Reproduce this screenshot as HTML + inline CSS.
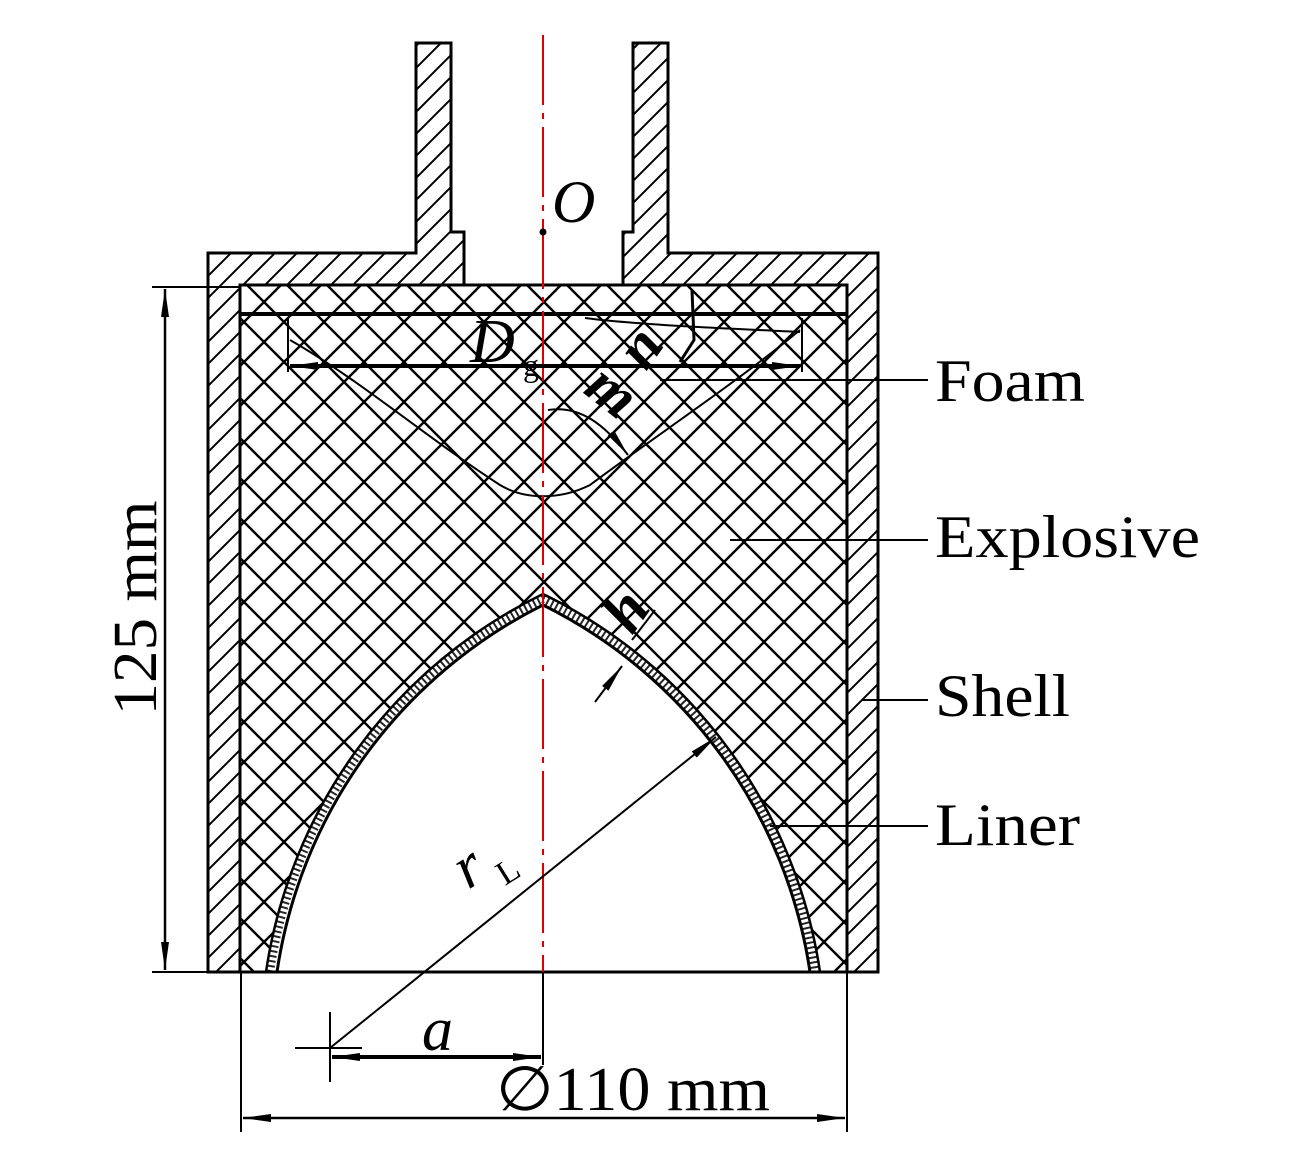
<!DOCTYPE html>
<html><head><meta charset="utf-8"><style>
html,body{margin:0;padding:0;background:#fff;}
svg{display:block;}
text{font-family:"Liberation Serif",serif;fill:#000;}
</style></head><body>
<svg width="1311" height="1169" viewBox="0 0 1311 1169" xmlns="http://www.w3.org/2000/svg">
<defs>
<pattern id="ch" width="40" height="40" patternUnits="userSpaceOnUse" x="4" y="2">
<path d="M0,0 L40,40 M40,0 L0,40 M-5,35 L5,45 M35,-5 L45,5 M-5,5 L5,-5 M35,45 L45,35" stroke="#000" stroke-width="2.4"/>
</pattern>
<pattern id="sh" width="22" height="22" patternUnits="userSpaceOnUse">
<path d="M0,22 L22,0 M-5,5 L5,-5 M17,27 L27,17" stroke="#000" stroke-width="2"/>
</pattern>
<marker id="ar" markerWidth="30" markerHeight="12" refX="28" refY="6" orient="auto" markerUnits="userSpaceOnUse">
<path d="M0,2 L28,6 L0,10 Z" fill="#000"/>
</marker>
</defs>
<rect x="240" y="285" width="607" height="687" fill="url(#ch)"/>
<path d="M266,972 A502,502 0 0 1 543,594 A502,502 0 0 1 820,972 Z" fill="#fff" stroke="#000" stroke-width="2.5"/>
<path d="M270,972 A497,497 0 0 1 543,599 A497,497 0 0 1 815,972" fill="none" stroke="#000" stroke-width="8" stroke-dasharray="2,3" opacity="0.85"/>
<path d="M277,972 A490,490 0 0 1 543,605 A490,490 0 0 1 810,972" fill="none" stroke="#000" stroke-width="3"/>
<path d="M208,972 V253 H416 V43 H451 V232 H464 V285 H240 V972 Z M878,972 V253 H668 V43 H633 V232 H623 V285 H847 V972 Z" fill="url(#sh)" stroke="#000" stroke-width="3"/>
<rect x="240" y="285" width="607" height="687" fill="none" stroke="#000" stroke-width="3"/>
<line x1="240" y1="314" x2="847" y2="314" stroke="#000" stroke-width="4"/>
<path d="M290,340 C360,380 430,440 500,485 C525,500 560,500 590,485 C650,440 740,380 800,330" fill="none" stroke="#000" stroke-width="2"/>
<line x1="543" y1="35" x2="543" y2="972" stroke="#d00" stroke-width="2" stroke-dasharray="70,8,6,8"/>
<circle cx="543" cy="232" r="3.5" fill="#000"/>
<text x="552" y="222" font-size="60" font-style="italic">O</text>
<line x1="288" y1="318" x2="288" y2="372" stroke="#000" stroke-width="2"/>
<line x1="802" y1="318" x2="802" y2="372" stroke="#000" stroke-width="2"/>
<line x1="320" y1="366" x2="770" y2="366" stroke="#000" stroke-width="4"/>
<line x1="500" y1="366" x2="290" y2="366" stroke="#000" stroke-width="4" marker-end="url(#ar)"/>
<line x1="600" y1="366" x2="800" y2="366" stroke="#000" stroke-width="4" marker-end="url(#ar)"/>
<text x="470" y="362" font-size="62" font-style="italic">D</text>
<text x="523" y="376" font-size="32">g</text>
<path d="M585,318 C640,325 720,328 800,332" fill="none" stroke="#000" stroke-width="2"/>
<path d="M692,290 L694,340 L680,362" fill="none" stroke="#000" stroke-width="3"/>
<text x="0" y="0" font-size="60" font-style="italic" font-weight="bold" transform="translate(646,372) rotate(-55)">n</text>
<path d="M548,410 C580,405 605,425 628,455" fill="none" stroke="#000" stroke-width="2" marker-end="url(#ar)"/>
<text x="0" y="0" font-size="60" font-style="italic" font-weight="bold" transform="translate(582,392) rotate(38)">m</text>
<line x1="595" y1="702" x2="622" y2="666" stroke="#000" stroke-width="2" marker-end="url(#ar)"/>
<line x1="655" y1="610" x2="632" y2="640" stroke="#000" stroke-width="2"/>
<text x="0" y="0" font-size="62" font-style="italic" font-weight="bold" transform="translate(632,636) rotate(-55)">h</text>
<line x1="330" y1="1048" x2="716" y2="737" stroke="#000" stroke-width="2" marker-end="url(#ar)"/>
<text x="0" y="0" font-size="62" font-style="italic" transform="translate(468,890) rotate(-32)">r</text>
<text x="0" y="0" font-size="34" transform="translate(505,886) rotate(-32)">L</text>
<line x1="330" y1="1012" x2="330" y2="1082" stroke="#000" stroke-width="2"/>
<line x1="295" y1="1048" x2="362" y2="1048" stroke="#000" stroke-width="2"/>
<line x1="440" y1="1057" x2="332" y2="1057" stroke="#000" stroke-width="4" marker-end="url(#ar)"/>
<line x1="440" y1="1057" x2="541" y2="1057" stroke="#000" stroke-width="4" marker-end="url(#ar)"/>
<line x1="543" y1="972" x2="543" y2="1065" stroke="#000" stroke-width="2"/>
<text x="422" y="1050" font-size="62" font-style="italic">a</text>
<line x1="241" y1="972" x2="241" y2="1132" stroke="#000" stroke-width="2"/>
<line x1="847" y1="972" x2="847" y2="1132" stroke="#000" stroke-width="2"/>
<line x1="540" y1="1118" x2="243" y2="1118" stroke="#000" stroke-width="2.5" marker-end="url(#ar)"/>
<line x1="540" y1="1118" x2="845" y2="1118" stroke="#000" stroke-width="2.5" marker-end="url(#ar)"/>
<text x="496" y="1110" font-size="62" textLength="274" lengthAdjust="spacingAndGlyphs">∅110 mm</text>
<line x1="152" y1="287" x2="240" y2="287" stroke="#000" stroke-width="2"/>
<line x1="152" y1="972" x2="208" y2="972" stroke="#000" stroke-width="2"/>
<line x1="165" y1="620" x2="165" y2="289" stroke="#000" stroke-width="2.5" marker-end="url(#ar)"/>
<line x1="165" y1="620" x2="165" y2="970" stroke="#000" stroke-width="2.5" marker-end="url(#ar)"/>
<text x="0" y="0" font-size="62" text-anchor="middle" textLength="215" lengthAdjust="spacingAndGlyphs" transform="translate(156,608) rotate(-90)">125 mm</text>
<line x1="660" y1="380" x2="928" y2="380" stroke="#000" stroke-width="2"/>
<line x1="730" y1="540" x2="928" y2="540" stroke="#000" stroke-width="2"/>
<line x1="862" y1="700" x2="928" y2="700" stroke="#000" stroke-width="2"/>
<line x1="770" y1="826" x2="928" y2="826" stroke="#000" stroke-width="2"/>
<text x="935" y="401" font-size="60" textLength="150" lengthAdjust="spacingAndGlyphs">Foam</text>
<text x="935" y="557" font-size="60" textLength="265" lengthAdjust="spacingAndGlyphs">Explosive</text>
<text x="935" y="716" font-size="60" textLength="135" lengthAdjust="spacingAndGlyphs">Shell</text>
<text x="935" y="845" font-size="60" textLength="145" lengthAdjust="spacingAndGlyphs">Liner</text>
</svg>
</body></html>
